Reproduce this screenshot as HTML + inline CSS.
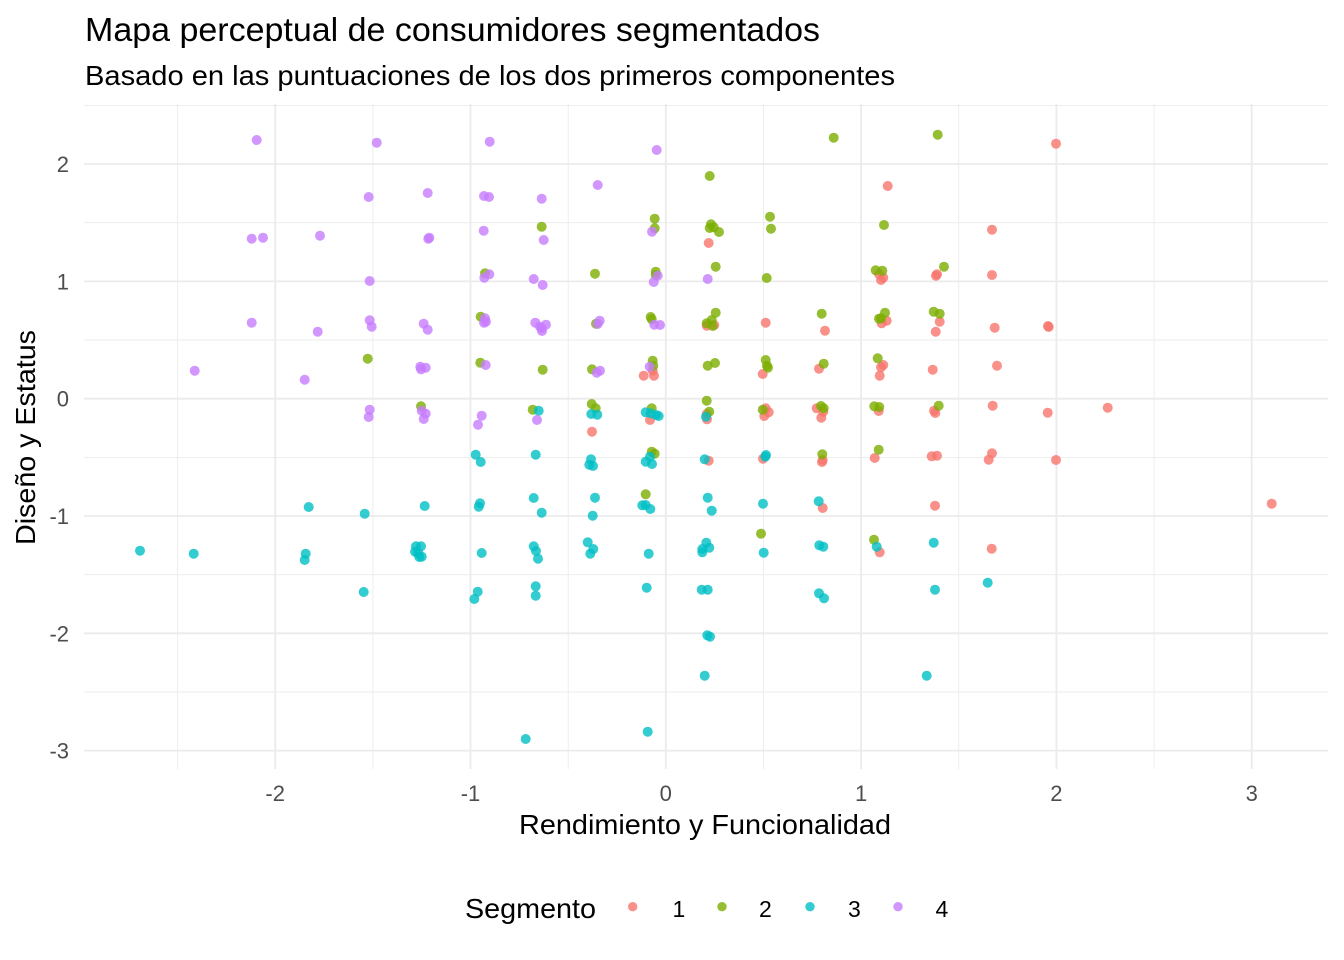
<!DOCTYPE html>
<html>
<head>
<meta charset="utf-8">
<style>
html,body{margin:0;padding:0;background:#fff;}
svg{display:block;}
text{font-family:"Liberation Sans",Arial,sans-serif;}
</style>
</head>
<body>
<svg width="1344" height="960" viewBox="0 0 1344 960" xmlns="http://www.w3.org/2000/svg">
<rect width="1344" height="960" fill="#fff"/>
<!-- minor grid -->
<g stroke="#EBEBEB" stroke-width="0.9" fill="none">
<line x1="84" y1="105.4" x2="1328" y2="105.4"/>
<line x1="84" y1="222.7" x2="1328" y2="222.7"/>
<line x1="84" y1="340" x2="1328" y2="340"/>
<line x1="84" y1="457.4" x2="1328" y2="457.4"/>
<line x1="84" y1="574.7" x2="1328" y2="574.7"/>
<line x1="84" y1="692" x2="1328" y2="692"/>
<line x1="177.6" y1="104" x2="177.6" y2="769"/>
<line x1="372.9" y1="104" x2="372.9" y2="769"/>
<line x1="568.2" y1="104" x2="568.2" y2="769"/>
<line x1="763.5" y1="104" x2="763.5" y2="769"/>
<line x1="958.8" y1="104" x2="958.8" y2="769"/>
<line x1="1154.1" y1="104" x2="1154.1" y2="769"/>
</g>
<!-- major grid -->
<g stroke="#EBEBEB" stroke-width="1.8" fill="none">
<line x1="84" y1="164" x2="1328" y2="164"/>
<line x1="84" y1="281.4" x2="1328" y2="281.4"/>
<line x1="84" y1="398.7" x2="1328" y2="398.7"/>
<line x1="84" y1="516" x2="1328" y2="516"/>
<line x1="84" y1="633.3" x2="1328" y2="633.3"/>
<line x1="84" y1="750.6" x2="1328" y2="750.6"/>
<line x1="275.2" y1="104" x2="275.2" y2="769"/>
<line x1="470.5" y1="104" x2="470.5" y2="769"/>
<line x1="665.8" y1="104" x2="665.8" y2="769"/>
<line x1="861.1" y1="104" x2="861.1" y2="769"/>
<line x1="1056.4" y1="104" x2="1056.4" y2="769"/>
<line x1="1251.7" y1="104" x2="1251.7" y2="769"/>
</g>
<!-- points: red -->
<g fill="#F8766D" fill-opacity="0.8">
<circle cx="887.7" cy="186" r="5"/><circle cx="708.7" cy="243" r="5"/>
<circle cx="879" cy="274" r="5"/><circle cx="883.3" cy="277.7" r="5"/><circle cx="881" cy="280" r="5"/>
<circle cx="706.7" cy="325.7" r="5"/><circle cx="714.3" cy="325" r="5"/>
<circle cx="765.7" cy="322.7" r="5"/><circle cx="825" cy="330.7" r="5"/>
<circle cx="886.7" cy="320.7" r="5"/><circle cx="881.7" cy="323.3" r="5"/>
<circle cx="652.7" cy="370.7" r="5"/><circle cx="643.7" cy="375.7" r="5"/><circle cx="654" cy="375.7" r="5"/>
<circle cx="762.7" cy="374" r="5"/><circle cx="819" cy="368.7" r="5"/>
<circle cx="883.3" cy="365" r="5"/><circle cx="881" cy="367.3" r="5"/><circle cx="879.7" cy="375.7" r="5"/>
<circle cx="592" cy="431.7" r="5"/><circle cx="650" cy="420" r="5"/>
<circle cx="706.7" cy="414" r="5"/><circle cx="707" cy="419.3" r="5"/>
<circle cx="765.7" cy="408.3" r="5"/><circle cx="768.7" cy="412.3" r="5"/><circle cx="764.3" cy="416" r="5"/>
<circle cx="816.7" cy="408.3" r="5"/><circle cx="823.3" cy="411.7" r="5"/><circle cx="821.3" cy="417.7" r="5"/>
<circle cx="878.7" cy="411" r="5"/>
<circle cx="1056" cy="143.7" r="5"/><circle cx="992" cy="229.7" r="5"/>
<circle cx="936" cy="275.7" r="5"/><circle cx="937" cy="274.3" r="5"/><circle cx="992" cy="275" r="5"/>
<circle cx="939.7" cy="321.7" r="5"/><circle cx="935.7" cy="331.7" r="5"/><circle cx="994.7" cy="327.7" r="5"/>
<circle cx="1048" cy="326" r="5"/><circle cx="1048.7" cy="327" r="5"/>
<circle cx="932.7" cy="369.7" r="5"/><circle cx="997" cy="365.7" r="5"/>
<circle cx="934" cy="410.7" r="5"/><circle cx="935.3" cy="413" r="5"/>
<circle cx="992.7" cy="405.7" r="5"/><circle cx="1047.7" cy="412.7" r="5"/><circle cx="1107.7" cy="407.7" r="5"/>
<circle cx="708.7" cy="460.7" r="5"/><circle cx="763" cy="458.7" r="5"/>
<circle cx="822.7" cy="460" r="5"/><circle cx="822" cy="462" r="5"/><circle cx="874.7" cy="458" r="5"/>
<circle cx="822.7" cy="508" r="5"/><circle cx="879.7" cy="552.3" r="5"/>
<circle cx="931.7" cy="456.3" r="5"/><circle cx="937" cy="455.7" r="5"/>
<circle cx="992" cy="453.3" r="5"/><circle cx="988.7" cy="459.7" r="5"/><circle cx="1056" cy="460" r="5"/>
<circle cx="935" cy="505.7" r="5"/><circle cx="1271.7" cy="503.7" r="5"/><circle cx="991.7" cy="548.7" r="5"/>
</g>
<!-- points: green -->
<g fill="#7CAE00" fill-opacity="0.8">
<circle cx="833.7" cy="137.7" r="5"/><circle cx="709.7" cy="176" r="5"/><circle cx="541.7" cy="226.7" r="5"/>
<circle cx="654.7" cy="218.7" r="5"/><circle cx="654.7" cy="228.3" r="5"/>
<circle cx="709.7" cy="228" r="5"/><circle cx="711" cy="224.3" r="5"/><circle cx="713.7" cy="227.3" r="5"/><circle cx="719" cy="232" r="5"/>
<circle cx="770" cy="216.7" r="5"/><circle cx="771" cy="228.7" r="5"/><circle cx="884" cy="225" r="5"/>
<circle cx="595" cy="273.7" r="5"/><circle cx="655.7" cy="271.7" r="5"/><circle cx="655.7" cy="275" r="5"/>
<circle cx="715.7" cy="266.7" r="5"/><circle cx="766.7" cy="278" r="5"/>
<circle cx="875.7" cy="270.3" r="5"/><circle cx="882.3" cy="270.7" r="5"/>
<circle cx="596" cy="323.7" r="5"/><circle cx="650.7" cy="317" r="5"/><circle cx="651.7" cy="319.3" r="5"/>
<circle cx="715.7" cy="312.7" r="5"/><circle cx="711.7" cy="320" r="5"/><circle cx="706.7" cy="323.3" r="5"/><circle cx="712.7" cy="326" r="5"/>
<circle cx="821.7" cy="313.7" r="5"/>
<circle cx="885" cy="312.7" r="5"/><circle cx="879" cy="318.7" r="5"/><circle cx="881" cy="318.3" r="5"/>
<circle cx="542.7" cy="369.7" r="5"/><circle cx="592" cy="369.3" r="5"/>
<circle cx="652.7" cy="360.7" r="5"/><circle cx="653.3" cy="365.7" r="5"/>
<circle cx="715" cy="363" r="5"/><circle cx="707.7" cy="365.7" r="5"/>
<circle cx="765.7" cy="360" r="5"/><circle cx="767" cy="365.7" r="5"/><circle cx="768" cy="367.7" r="5"/>
<circle cx="823.7" cy="363.7" r="5"/><circle cx="877.7" cy="358.3" r="5"/>
<circle cx="532.7" cy="409.7" r="5"/><circle cx="591.7" cy="404" r="5"/><circle cx="595.7" cy="408.3" r="5"/>
<circle cx="651.7" cy="408.3" r="5"/><circle cx="706.7" cy="400.7" r="5"/><circle cx="709.3" cy="411.7" r="5"/>
<circle cx="762.7" cy="409.7" r="5"/><circle cx="821" cy="406" r="5"/><circle cx="823.7" cy="408.3" r="5"/>
<circle cx="874.3" cy="406.3" r="5"/><circle cx="879.3" cy="407" r="5"/>
<circle cx="937.7" cy="134.7" r="5"/><circle cx="944" cy="266.7" r="5"/>
<circle cx="933.7" cy="311.7" r="5"/><circle cx="939.7" cy="313.7" r="5"/><circle cx="938.7" cy="405.7" r="5"/>
<circle cx="651.7" cy="451.7" r="5"/><circle cx="654.7" cy="453.7" r="5"/>
<circle cx="822.3" cy="454.3" r="5"/><circle cx="878.7" cy="449.7" r="5"/>
<circle cx="645.7" cy="494.3" r="5"/><circle cx="761" cy="533.7" r="5"/><circle cx="874" cy="539.7" r="5"/>
<circle cx="485" cy="273.3" r="5"/><circle cx="480.7" cy="316.7" r="5"/><circle cx="367.7" cy="358.7" r="5"/>
<circle cx="480.3" cy="362.7" r="5"/><circle cx="421" cy="406.3" r="5"/>
</g>
<!-- points: cyan -->
<g fill="#00BFC4" fill-opacity="0.8">
<circle cx="538.7" cy="410.7" r="5"/><circle cx="591.3" cy="414" r="5"/><circle cx="597.3" cy="414.7" r="5"/>
<circle cx="645.7" cy="412.3" r="5"/><circle cx="650.7" cy="413.3" r="5"/><circle cx="658.7" cy="416" r="5"/><circle cx="656" cy="415" r="5"/>
<circle cx="706" cy="416.7" r="5"/>
<circle cx="475.7" cy="454.7" r="5"/><circle cx="480.7" cy="462" r="5"/>
<circle cx="308.7" cy="507" r="5"/><circle cx="364.7" cy="513.7" r="5"/><circle cx="424.7" cy="506" r="5"/>
<circle cx="480" cy="503.3" r="5"/><circle cx="478.7" cy="506.7" r="5"/>
<circle cx="140" cy="550.7" r="5"/><circle cx="193.7" cy="553.7" r="5"/>
<circle cx="305.7" cy="553.7" r="5"/><circle cx="304.7" cy="560" r="5"/>
<circle cx="416" cy="546.3" r="5"/><circle cx="421" cy="546.3" r="5"/><circle cx="415" cy="551.7" r="5"/>
<circle cx="418.3" cy="553.3" r="5"/><circle cx="419.3" cy="557" r="5"/><circle cx="421.7" cy="556.7" r="5"/>
<circle cx="481.7" cy="553" r="5"/><circle cx="363.7" cy="592" r="5"/>
<circle cx="477.7" cy="591.7" r="5"/><circle cx="474.3" cy="599" r="5"/>
<circle cx="535.7" cy="454.7" r="5"/>
<circle cx="591" cy="459.3" r="5"/><circle cx="589.3" cy="464.7" r="5"/><circle cx="593" cy="466" r="5"/>
<circle cx="650" cy="456.7" r="5"/><circle cx="645.7" cy="461.7" r="5"/><circle cx="652" cy="464" r="5"/>
<circle cx="704.7" cy="459.3" r="5"/><circle cx="766" cy="455" r="5"/><circle cx="765.3" cy="456.7" r="5"/>
<circle cx="533.7" cy="498" r="5"/><circle cx="541.7" cy="512.7" r="5"/>
<circle cx="595" cy="497.7" r="5"/><circle cx="592.7" cy="515.7" r="5"/>
<circle cx="642.3" cy="505.3" r="5"/><circle cx="645.7" cy="505" r="5"/><circle cx="650.3" cy="509" r="5"/>
<circle cx="707.7" cy="497.7" r="5"/><circle cx="711.7" cy="510.7" r="5"/>
<circle cx="763" cy="503.7" r="5"/><circle cx="818.7" cy="501.3" r="5"/><circle cx="763.7" cy="552.7" r="5"/>
<circle cx="533.7" cy="546.3" r="5"/><circle cx="536" cy="551" r="5"/><circle cx="538" cy="558.7" r="5"/>
<circle cx="587.7" cy="542.3" r="5"/><circle cx="593.3" cy="549" r="5"/><circle cx="590.3" cy="553.7" r="5"/>
<circle cx="648.7" cy="553.7" r="5"/>
<circle cx="706.3" cy="542.7" r="5"/><circle cx="702.3" cy="549" r="5"/><circle cx="709.3" cy="547.7" r="5"/><circle cx="702.3" cy="552.3" r="5"/>
<circle cx="819.3" cy="545.3" r="5"/><circle cx="823.3" cy="546.7" r="5"/><circle cx="876.7" cy="546.7" r="5"/>
<circle cx="535.7" cy="586.3" r="5"/><circle cx="535.7" cy="595.7" r="5"/><circle cx="646.7" cy="587.7" r="5"/>
<circle cx="701.7" cy="589.7" r="5"/><circle cx="707.7" cy="589.7" r="5"/>
<circle cx="819" cy="593.3" r="5"/><circle cx="824" cy="598.3" r="5"/>
<circle cx="707.3" cy="635.3" r="5"/><circle cx="710" cy="636.7" r="5"/><circle cx="704.7" cy="675.7" r="5"/>
<circle cx="525.7" cy="739" r="5"/><circle cx="647.7" cy="731.7" r="5"/>
<circle cx="933.7" cy="542.7" r="5"/><circle cx="935" cy="589.7" r="5"/><circle cx="987.7" cy="582.7" r="5"/><circle cx="926.7" cy="675.7" r="5"/>
</g>
<!-- points: purple -->
<g fill="#C77CFF" fill-opacity="0.8">
<circle cx="256.7" cy="140" r="5"/><circle cx="376.7" cy="142.7" r="5"/><circle cx="489.7" cy="141.7" r="5"/>
<circle cx="368.7" cy="197" r="5"/><circle cx="427.7" cy="193" r="5"/><circle cx="484" cy="196" r="5"/><circle cx="489" cy="197" r="5"/>
<circle cx="251.7" cy="238.7" r="5"/><circle cx="263" cy="237.7" r="5"/><circle cx="320" cy="235.7" r="5"/>
<circle cx="429.3" cy="237.7" r="5"/><circle cx="428.3" cy="238.7" r="5"/><circle cx="483.7" cy="230.7" r="5"/>
<circle cx="489.3" cy="274.3" r="5"/><circle cx="484.3" cy="277.7" r="5"/><circle cx="369.7" cy="281" r="5"/>
<circle cx="251.7" cy="322.7" r="5"/><circle cx="317.7" cy="331.7" r="5"/><circle cx="369.7" cy="320.3" r="5"/><circle cx="371.7" cy="326.7" r="5"/>
<circle cx="423.7" cy="323.7" r="5"/><circle cx="427.7" cy="329.7" r="5"/>
<circle cx="485" cy="318.3" r="5"/><circle cx="486" cy="321.7" r="5"/><circle cx="484" cy="322.7" r="5"/>
<circle cx="194.7" cy="370.7" r="5"/><circle cx="304.7" cy="379.7" r="5"/>
<circle cx="420.3" cy="366.7" r="5"/><circle cx="425.7" cy="367.7" r="5"/><circle cx="421" cy="369.3" r="5"/><circle cx="485.7" cy="365" r="5"/>
<circle cx="369.7" cy="409.7" r="5"/><circle cx="368.7" cy="417" r="5"/>
<circle cx="421.7" cy="410.7" r="5"/><circle cx="425.7" cy="413.7" r="5"/><circle cx="423.7" cy="419" r="5"/>
<circle cx="481.7" cy="415.7" r="5"/><circle cx="478" cy="424.7" r="5"/>
<circle cx="656.7" cy="150" r="5"/><circle cx="597.7" cy="185" r="5"/><circle cx="541.7" cy="198.7" r="5"/>
<circle cx="543.7" cy="240" r="5"/><circle cx="652" cy="231.7" r="5"/>
<circle cx="533.7" cy="279" r="5"/><circle cx="542.7" cy="285" r="5"/>
<circle cx="657.7" cy="275.7" r="5"/><circle cx="653.7" cy="282" r="5"/><circle cx="707.7" cy="279" r="5"/>
<circle cx="535.3" cy="322.7" r="5"/><circle cx="540" cy="326.7" r="5"/><circle cx="546" cy="324.7" r="5"/>
<circle cx="542" cy="331" r="5"/><circle cx="541.7" cy="328.3" r="5"/>
<circle cx="599.7" cy="320.7" r="5"/><circle cx="597.7" cy="324" r="5"/>
<circle cx="654.3" cy="324.7" r="5"/><circle cx="660" cy="325" r="5"/>
<circle cx="596.7" cy="372.7" r="5"/><circle cx="600" cy="370.7" r="5"/><circle cx="649.7" cy="366.7" r="5"/>
<circle cx="537" cy="420" r="5"/>
</g>
<!-- y tick labels -->
<g fill="#4D4D4D" font-size="22" text-anchor="end">
<text x="69" y="172">2</text>
<text x="69" y="289.4">1</text>
<text x="69" y="406.7">0</text>
<text x="69" y="524">-1</text>
<text x="69" y="641.3">-2</text>
<text x="69" y="758.6">-3</text>
</g>
<!-- x tick labels -->
<g fill="#4D4D4D" font-size="22" text-anchor="middle">
<text x="275.2" y="801">-2</text>
<text x="470.5" y="801">-1</text>
<text x="665.8" y="801">0</text>
<text x="861.1" y="801">1</text>
<text x="1056.4" y="801">2</text>
<text x="1251.7" y="801">3</text>
</g>
<!-- axis titles -->
<text x="519" y="834" font-size="28" textLength="372" lengthAdjust="spacingAndGlyphs" fill="#000">Rendimiento y Funcionalidad</text>
<text transform="translate(35,545) rotate(-90)" font-size="28" textLength="215" lengthAdjust="spacingAndGlyphs" fill="#000">Diseño y Estatus</text>
<!-- title -->
<text x="85" y="41" font-size="33" textLength="735" lengthAdjust="spacingAndGlyphs" fill="#000">Mapa perceptual de consumidores segmentados</text>
<text x="85" y="85" font-size="28" textLength="810" lengthAdjust="spacingAndGlyphs" fill="#000">Basado en las puntuaciones de los dos primeros componentes</text>
<!-- legend -->
<text x="465" y="918" font-size="28" textLength="131" lengthAdjust="spacingAndGlyphs" fill="#000">Segmento</text>
<circle cx="632.7" cy="906.7" r="4.7" fill="#F8766D" fill-opacity="0.8"/>
<circle cx="722" cy="906.7" r="4.7" fill="#7CAE00" fill-opacity="0.8"/>
<circle cx="810" cy="906.7" r="4.7" fill="#00BFC4" fill-opacity="0.8"/>
<circle cx="898" cy="906.7" r="4.7" fill="#C77CFF" fill-opacity="0.8"/>
<g font-size="23" fill="#000">
<text x="672.5" y="917">1</text>
<text x="759" y="917">2</text>
<text x="848" y="917">3</text>
<text x="935.5" y="917">4</text>
</g>
</svg>
</body>
</html>
